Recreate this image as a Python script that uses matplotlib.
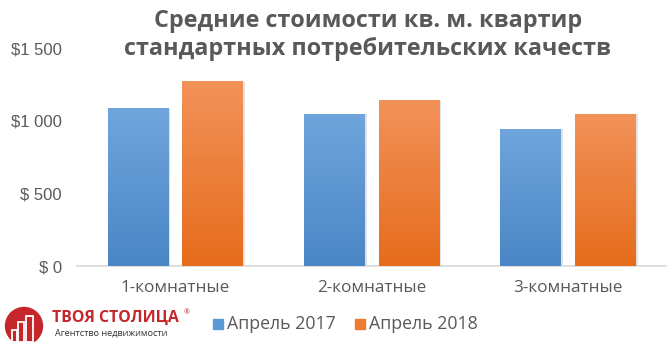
import matplotlib
matplotlib.use('Agg')
import matplotlib.pyplot as plt
import numpy as np
from matplotlib.colors import LinearSegmentedColormap
from matplotlib.patches import Circle, Rectangle

# Chart data
categories = ['1-комнатные', '2-комнатные', '3-комнатные']
april_2017 = [1089, 1048, 945]
april_2018 = [1274, 1144, 1048]
series_labels = ['Апрель 2017', 'Апрель 2018']
y_ticks = [0, 500, 1000, 1500]
y_tick_labels = ['$ 0', '$ 500', '$1 000', '$1 500']
title = 'Средние стоимости кв. м. квартир\nстандартных потребительских качеств'

# Colors
text_gray = '#595959'
blue_top, blue_bottom = '#70a5dc', '#4a86c6'
orange_top, orange_bottom = '#f2925a', '#e66c1c'
logo_red = '#c4262c'

plt.rcParams['font.family'] = ['Open Sans', 'DejaVu Sans']

fig = plt.figure(figsize=(6.71, 3.42), dpi=100)
fig.patch.set_facecolor('white')
ax = fig.add_axes([77 / 671, 1 - 266 / 342, 589 / 671, 218 / 342])

x = np.arange(len(categories))
width = 0.306
offset = 0.19

bars_a = ax.bar(x - offset, april_2017, width, color=blue_bottom, zorder=2)
bars_b = ax.bar(x + offset, april_2018, width, color=orange_bottom, zorder=2)


def gradient_fill(bars, top, bottom):
    cmap = LinearSegmentedColormap.from_list('g', [bottom, top])
    grad = np.linspace(0, 1, 256).reshape(-1, 1)
    for bar in bars:
        x0, y0 = bar.get_x(), bar.get_y()
        w, h = bar.get_width(), bar.get_height()
        im = ax.imshow(grad, cmap=cmap, aspect='auto', origin='lower',
                       extent=[x0, x0 + w, y0, y0 + h], zorder=3)
        im.set_clip_path(bar)
        # light shadow on the right side
        ax.add_patch(Rectangle((x0 + w, y0), 0.012, h * 0.995, color='#d0d0d0',
                               alpha=0.6, zorder=1, linewidth=0))


gradient_fill(bars_a, blue_top, blue_bottom)
gradient_fill(bars_b, orange_top, orange_bottom)

ax.set_xlim(-0.5, 2.5)
ax.set_ylim(0, 1500)

ax.set_yticks(y_ticks)
ax.set_yticklabels(y_tick_labels, fontsize=12, color=text_gray,
                   family=['Liberation Sans Narrow', 'Liberation Sans'])
ax.set_xticks(x)
ax.set_xticklabels(categories, fontsize=12.3, color=text_gray)
ax.tick_params(axis='both', length=0)
ax.tick_params(axis='y', pad=11)
ax.tick_params(axis='x', pad=10)

for side in ['top', 'right', 'left']:
    ax.spines[side].set_visible(False)
ax.spines['bottom'].set_color('#d9d9d9')
ax.spines['bottom'].set_linewidth(1.2)

fig.text(368 / 671, 1 - 35 / 342, title, ha='center', va='center',
         fontsize=16.8, fontweight='bold', color=text_gray, linespacing=1.22)

# Legend
fig.patches.append(Rectangle((213 / 671, 1 - 329 / 342), 10 / 671, 10 / 342,
                             transform=fig.transFigure, color='#5b9bd5'))
fig.text(227 / 671, 1 - 324 / 342, series_labels[0], ha='left', va='center',
         fontsize=12.8, color=text_gray)
fig.patches.append(Rectangle((355 / 671, 1 - 329 / 342), 10 / 671, 10 / 342,
                             transform=fig.transFigure, color='#ed7d31'))
fig.text(369 / 671, 1 - 324 / 342, series_labels[1], ha='left', va='center',
         fontsize=12.8, color=text_gray)

# Logo
logo = fig.add_axes([0 / 671, 0, 48 / 671, 44 / 342])
logo.set_xlim(0, 48)
logo.set_ylim(0, 44)
logo.axis('off')
logo.add_patch(Circle((24, 16), 18.5, color=logo_red, clip_on=True))
for bx, by, bw, bh in [(12, 0, 5, 12), (18, 0, 6, 20), (26, 0, 7, 26)]:
    logo.add_patch(Rectangle((bx, by), bw, bh, fill=False, edgecolor='white', linewidth=1.3))
fig.text(52 / 671, 1 - 318 / 342, 'ТВОЯ СТОЛИЦА', ha='left', va='center',
         fontsize=11.4, fontweight='bold', color=logo_red)
fig.text(184 / 671, 1 - 313 / 342, '®', ha='left', va='center',
         fontsize=5, color=logo_red)
fig.text(55 / 671, 1 - 333 / 342, 'Агентство недвижимости', ha='left', va='center',
         fontsize=6.6, color='#333333')

fig.savefig('out.png', dpi=100, facecolor='white')
